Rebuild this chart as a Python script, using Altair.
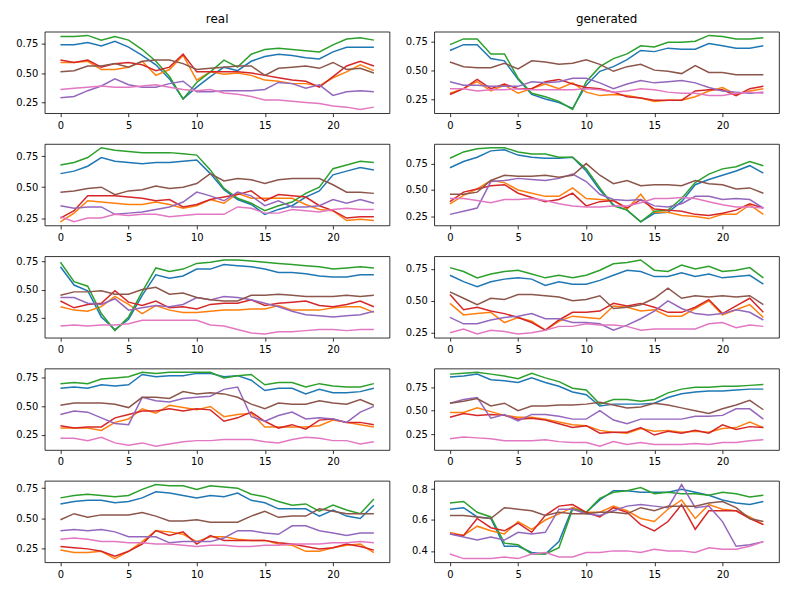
import altair as alt
import pandas as pd

SERIES = ["blue", "orange", "green", "red", "purple", "brown", "pink"]
COLORS = ["#1f77b4", "#ff7f0e", "#2ca02c", "#d62728", "#9467bd", "#8c564b", "#e377c2"]
X_TICKS = [0, 5, 10, 15, 20]

# ---- row 1, real ----
R1_BLUE = [0.74,0.74,0.76,0.73,0.77,0.72,0.65,0.57,0.45,0.28,0.38,0.47,0.55,0.52,0.60,0.64,0.66,0.65,0.63,0.62,0.68,0.72,0.72,0.72]
R1_ORANGE = [0.59,0.59,0.60,0.53,0.53,0.55,0.60,0.48,0.53,0.65,0.44,0.51,0.49,0.50,0.48,0.44,0.43,0.41,0.41,0.39,0.46,0.51,0.57,0.52]
R1_GREEN = [0.81,0.81,0.82,0.78,0.81,0.78,0.70,0.60,0.47,0.28,0.42,0.51,0.61,0.55,0.66,0.70,0.71,0.70,0.69,0.68,0.74,0.79,0.80,0.78]
R1_RED = [0.61,0.59,0.61,0.55,0.58,0.59,0.57,0.52,0.55,0.66,0.51,0.51,0.51,0.51,0.50,0.48,0.46,0.44,0.43,0.38,0.47,0.56,0.60,0.56]
R1_PURPLE = [0.29,0.30,0.35,0.39,0.45,0.40,0.38,0.38,0.41,0.43,0.34,0.34,0.35,0.35,0.35,0.36,0.42,0.41,0.37,0.40,0.31,0.34,0.35,0.34]
R1_BROWN = [0.51,0.52,0.56,0.56,0.58,0.55,0.60,0.61,0.61,0.58,0.53,0.54,0.55,0.56,0.56,0.48,0.54,0.55,0.56,0.54,0.59,0.53,0.54,0.50]
R1_PINK = [0.36,0.37,0.38,0.39,0.38,0.38,0.39,0.40,0.38,0.36,0.35,0.36,0.33,0.32,0.30,0.27,0.27,0.26,0.25,0.24,0.22,0.21,0.19,0.21]

# ---- row 1, generated ----
G1_BLUE = [0.67,0.72,0.72,0.60,0.58,0.42,0.29,0.25,0.22,0.17,0.37,0.49,0.53,0.59,0.67,0.66,0.69,0.68,0.68,0.73,0.71,0.69,0.69,0.71]
G1_ORANGE = [0.30,0.34,0.40,0.32,0.37,0.30,0.34,0.38,0.34,0.39,0.31,0.28,0.29,0.28,0.26,0.23,0.24,0.24,0.27,0.32,0.35,0.29,0.32,0.34]
G1_GREEN = [0.72,0.77,0.77,0.64,0.64,0.43,0.30,0.27,0.23,0.16,0.40,0.53,0.60,0.64,0.71,0.70,0.74,0.74,0.75,0.80,0.79,0.77,0.77,0.78]
G1_RED = [0.29,0.34,0.42,0.34,0.38,0.34,0.34,0.40,0.42,0.38,0.35,0.34,0.31,0.27,0.26,0.24,0.24,0.24,0.32,0.33,0.33,0.28,0.34,0.36]
G1_PURPLE = [0.40,0.37,0.37,0.36,0.36,0.36,0.40,0.39,0.40,0.43,0.43,0.39,0.34,0.38,0.41,0.39,0.40,0.41,0.39,0.35,0.32,0.31,0.30,0.31]
G1_BROWN = [0.57,0.53,0.52,0.52,0.56,0.51,0.58,0.57,0.55,0.56,0.59,0.55,0.49,0.53,0.55,0.50,0.49,0.47,0.54,0.48,0.48,0.46,0.46,0.46]
G1_PINK = [0.34,0.34,0.32,0.33,0.33,0.34,0.33,0.33,0.33,0.33,0.34,0.33,0.31,0.32,0.34,0.33,0.31,0.30,0.30,0.28,0.28,0.30,0.31,0.30]

# ---- row 2, real ----
R2_BLUE = [0.61,0.63,0.67,0.74,0.71,0.70,0.69,0.70,0.70,0.71,0.72,0.61,0.48,0.40,0.36,0.28,0.32,0.35,0.42,0.47,0.60,0.63,0.66,0.64]
R2_ORANGE = [0.22,0.29,0.39,0.38,0.37,0.36,0.36,0.38,0.36,0.33,0.35,0.40,0.37,0.45,0.41,0.41,0.41,0.41,0.36,0.32,0.31,0.23,0.24,0.23]
R2_GREEN = [0.68,0.70,0.74,0.82,0.80,0.79,0.78,0.78,0.78,0.77,0.76,0.64,0.49,0.41,0.37,0.31,0.35,0.38,0.45,0.50,0.65,0.68,0.71,0.70]
R2_RED = [0.25,0.31,0.43,0.43,0.43,0.42,0.41,0.39,0.40,0.34,0.36,0.40,0.42,0.44,0.47,0.39,0.44,0.43,0.42,0.35,0.31,0.25,0.26,0.26]
R2_PURPLE = [0.35,0.33,0.34,0.34,0.28,0.29,0.30,0.32,0.34,0.38,0.46,0.43,0.39,0.46,0.43,0.35,0.39,0.34,0.34,0.35,0.40,0.37,0.40,0.37]
R2_BROWN = [0.46,0.47,0.49,0.50,0.44,0.47,0.48,0.51,0.49,0.50,0.53,0.61,0.55,0.57,0.56,0.53,0.56,0.57,0.57,0.57,0.52,0.46,0.46,0.45]
R2_PINK = [0.26,0.22,0.25,0.25,0.28,0.27,0.28,0.28,0.26,0.27,0.28,0.28,0.28,0.34,0.33,0.29,0.29,0.32,0.31,0.30,0.32,0.33,0.32,0.32]

# ---- row 2, generated ----
G2_BLUE = [0.71,0.77,0.81,0.87,0.88,0.83,0.81,0.80,0.80,0.81,0.68,0.50,0.36,0.31,0.20,0.28,0.29,0.39,0.55,0.60,0.64,0.68,0.73,0.66]
G2_ORANGE = [0.37,0.45,0.51,0.59,0.57,0.50,0.47,0.44,0.44,0.52,0.42,0.41,0.40,0.32,0.46,0.29,0.29,0.26,0.25,0.23,0.27,0.27,0.36,0.27]
G2_GREEN = [0.80,0.86,0.89,0.90,0.90,0.86,0.84,0.84,0.81,0.81,0.70,0.52,0.35,0.31,0.20,0.30,0.31,0.42,0.57,0.65,0.70,0.72,0.77,0.73]
G2_RED = [0.39,0.48,0.51,0.54,0.55,0.47,0.43,0.39,0.41,0.47,0.35,0.39,0.40,0.33,0.41,0.32,0.31,0.30,0.27,0.26,0.28,0.31,0.37,0.33]
G2_PURPLE = [0.27,0.30,0.33,0.58,0.59,0.61,0.60,0.59,0.61,0.65,0.58,0.46,0.41,0.40,0.41,0.35,0.34,0.37,0.44,0.44,0.41,0.42,0.41,0.33]
G2_BROWN = [0.46,0.46,0.48,0.59,0.64,0.63,0.63,0.64,0.62,0.64,0.75,0.64,0.56,0.59,0.54,0.55,0.55,0.54,0.59,0.56,0.55,0.51,0.52,0.47]
G2_PINK = [0.42,0.42,0.40,0.38,0.41,0.41,0.42,0.40,0.37,0.35,0.34,0.34,0.35,0.35,0.38,0.42,0.42,0.43,0.42,0.39,0.36,0.34,0.34,0.33]

# ---- row 3, real ----
R3_BLUE = [0.70,0.54,0.49,0.26,0.15,0.24,0.45,0.63,0.60,0.62,0.68,0.68,0.72,0.71,0.70,0.68,0.65,0.65,0.64,0.62,0.61,0.61,0.63,0.63]
R3_ORANGE = [0.35,0.32,0.31,0.35,0.44,0.37,0.29,0.36,0.32,0.30,0.30,0.31,0.32,0.32,0.33,0.33,0.36,0.32,0.32,0.32,0.34,0.35,0.35,0.30]
R3_GREEN = [0.74,0.57,0.53,0.29,0.14,0.26,0.48,0.69,0.66,0.68,0.73,0.74,0.76,0.76,0.75,0.74,0.73,0.72,0.71,0.70,0.68,0.69,0.70,0.69]
R3_RED = [0.40,0.34,0.37,0.38,0.49,0.39,0.36,0.40,0.34,0.35,0.33,0.37,0.38,0.38,0.41,0.36,0.38,0.39,0.40,0.36,0.35,0.37,0.40,0.35]
R3_PURPLE = [0.43,0.43,0.38,0.37,0.42,0.32,0.34,0.36,0.35,0.37,0.43,0.41,0.44,0.43,0.41,0.38,0.35,0.31,0.28,0.27,0.26,0.27,0.28,0.31]
R3_BROWN = [0.45,0.48,0.48,0.49,0.46,0.46,0.50,0.52,0.46,0.47,0.43,0.41,0.40,0.40,0.45,0.45,0.46,0.45,0.44,0.44,0.44,0.45,0.44,0.45]
R3_PINK = [0.18,0.19,0.18,0.19,0.19,0.20,0.23,0.23,0.23,0.23,0.23,0.19,0.18,0.15,0.12,0.11,0.13,0.13,0.14,0.15,0.15,0.14,0.15,0.15]

# ---- row 3, generated ----
G3_BLUE = [0.70,0.65,0.61,0.65,0.67,0.68,0.67,0.62,0.65,0.63,0.63,0.66,0.70,0.74,0.73,0.69,0.69,0.72,0.69,0.71,0.68,0.69,0.70,0.63]
G3_ORANGE = [0.48,0.39,0.40,0.41,0.33,0.37,0.34,0.27,0.34,0.38,0.37,0.36,0.46,0.45,0.42,0.43,0.38,0.38,0.44,0.50,0.39,0.43,0.47,0.37]
G3_GREEN = [0.76,0.73,0.68,0.71,0.73,0.74,0.71,0.68,0.70,0.68,0.70,0.74,0.79,0.80,0.82,0.74,0.73,0.78,0.75,0.77,0.73,0.74,0.76,0.68]
G3_RED = [0.55,0.43,0.45,0.42,0.40,0.37,0.33,0.27,0.35,0.41,0.41,0.42,0.48,0.46,0.48,0.45,0.41,0.41,0.45,0.51,0.40,0.46,0.52,0.41]
G3_PURPLE = [0.37,0.32,0.32,0.35,0.37,0.38,0.40,0.36,0.36,0.33,0.33,0.32,0.27,0.31,0.36,0.42,0.50,0.44,0.40,0.39,0.40,0.43,0.41,0.35]
G3_BROWN = [0.57,0.52,0.47,0.52,0.51,0.55,0.55,0.54,0.53,0.50,0.51,0.54,0.44,0.45,0.47,0.52,0.60,0.52,0.54,0.53,0.54,0.53,0.54,0.47]
G3_PINK = [0.25,0.28,0.24,0.27,0.26,0.24,0.25,0.27,0.30,0.30,0.32,0.31,0.31,0.30,0.27,0.28,0.28,0.28,0.28,0.32,0.33,0.29,0.31,0.30]

# ---- row 4, real ----
R4_BLUE = [0.66,0.67,0.66,0.69,0.68,0.69,0.78,0.76,0.77,0.77,0.79,0.79,0.76,0.77,0.73,0.64,0.66,0.66,0.61,0.65,0.62,0.62,0.63,0.66]
R4_ORANGE = [0.31,0.31,0.31,0.29,0.36,0.39,0.48,0.44,0.51,0.49,0.47,0.50,0.41,0.43,0.44,0.32,0.32,0.32,0.32,0.33,0.38,0.36,0.34,0.32]
R4_GREEN = [0.70,0.71,0.70,0.74,0.75,0.76,0.80,0.79,0.80,0.80,0.80,0.80,0.75,0.77,0.78,0.69,0.71,0.71,0.67,0.70,0.68,0.67,0.67,0.70]
R4_RED = [0.33,0.31,0.32,0.32,0.40,0.43,0.46,0.46,0.48,0.46,0.48,0.47,0.37,0.40,0.45,0.37,0.31,0.34,0.30,0.38,0.39,0.36,0.36,0.34]
R4_PURPLE = [0.43,0.46,0.45,0.40,0.35,0.34,0.58,0.55,0.54,0.57,0.58,0.59,0.65,0.67,0.41,0.37,0.42,0.45,0.39,0.40,0.39,0.36,0.45,0.50]
R4_BROWN = [0.51,0.53,0.53,0.53,0.52,0.49,0.58,0.58,0.57,0.63,0.61,0.62,0.61,0.58,0.52,0.48,0.53,0.52,0.52,0.55,0.53,0.52,0.56,0.51]
R4_PINK = [0.22,0.22,0.20,0.23,0.18,0.16,0.18,0.15,0.17,0.19,0.20,0.20,0.21,0.21,0.21,0.19,0.18,0.21,0.23,0.22,0.20,0.20,0.17,0.19]

# ---- row 4, generated ----
G4_BLUE = [0.86,0.87,0.89,0.83,0.82,0.80,0.85,0.80,0.76,0.70,0.67,0.55,0.57,0.57,0.57,0.58,0.64,0.68,0.70,0.71,0.71,0.72,0.73,0.73]
G4_ORANGE = [0.48,0.48,0.53,0.49,0.45,0.43,0.43,0.41,0.38,0.35,0.34,0.29,0.27,0.26,0.31,0.28,0.29,0.27,0.28,0.27,0.31,0.32,0.38,0.32]
G4_GREEN = [0.89,0.90,0.91,0.89,0.87,0.84,0.90,0.85,0.81,0.74,0.72,0.57,0.62,0.62,0.60,0.62,0.69,0.73,0.75,0.75,0.76,0.76,0.77,0.78]
G4_RED = [0.43,0.47,0.45,0.46,0.45,0.41,0.42,0.40,0.36,0.32,0.34,0.26,0.27,0.27,0.32,0.24,0.28,0.26,0.29,0.26,0.35,0.30,0.33,0.32]
G4_PURPLE = [0.58,0.62,0.64,0.42,0.46,0.39,0.46,0.46,0.44,0.41,0.41,0.50,0.40,0.36,0.41,0.41,0.41,0.41,0.44,0.44,0.45,0.52,0.52,0.41]
G4_BROWN = [0.58,0.60,0.63,0.55,0.58,0.50,0.55,0.55,0.56,0.56,0.57,0.59,0.56,0.53,0.54,0.58,0.56,0.53,0.50,0.47,0.52,0.56,0.61,0.51]
G4_PINK = [0.20,0.22,0.21,0.20,0.18,0.18,0.18,0.19,0.17,0.16,0.16,0.12,0.17,0.14,0.16,0.14,0.14,0.14,0.15,0.14,0.16,0.16,0.18,0.19]

# ---- row 5, real ----
R5_BLUE = [0.62,0.64,0.65,0.65,0.63,0.64,0.67,0.72,0.71,0.69,0.67,0.69,0.68,0.71,0.65,0.63,0.58,0.58,0.58,0.52,0.57,0.52,0.50,0.61]
R5_ORANGE = [0.24,0.22,0.22,0.23,0.17,0.23,0.31,0.40,0.39,0.37,0.31,0.35,0.35,0.33,0.32,0.32,0.29,0.28,0.23,0.23,0.26,0.28,0.29,0.22]
R5_GREEN = [0.67,0.69,0.70,0.69,0.68,0.69,0.74,0.78,0.77,0.77,0.74,0.77,0.76,0.75,0.70,0.68,0.64,0.61,0.62,0.56,0.61,0.57,0.54,0.66]
R5_RED = [0.27,0.26,0.25,0.23,0.19,0.23,0.29,0.40,0.36,0.39,0.29,0.36,0.32,0.32,0.32,0.32,0.30,0.29,0.27,0.25,0.26,0.29,0.27,0.24]
R5_PURPLE = [0.40,0.41,0.40,0.41,0.39,0.35,0.35,0.35,0.30,0.31,0.31,0.31,0.34,0.40,0.40,0.38,0.37,0.44,0.44,0.40,0.38,0.36,0.38,0.38]
R5_BROWN = [0.49,0.54,0.51,0.53,0.53,0.53,0.55,0.52,0.48,0.48,0.49,0.47,0.47,0.47,0.52,0.56,0.51,0.52,0.52,0.58,0.56,0.54,0.54,0.54]
R5_PINK = [0.33,0.34,0.33,0.31,0.31,0.30,0.30,0.29,0.29,0.28,0.27,0.28,0.28,0.27,0.27,0.28,0.28,0.29,0.29,0.29,0.30,0.30,0.31,0.30]

# ---- row 5, generated ----
G5_BLUE = [0.67,0.68,0.62,0.61,0.43,0.43,0.39,0.38,0.46,0.68,0.65,0.73,0.79,0.79,0.78,0.78,0.78,0.80,0.78,0.76,0.73,0.71,0.70,0.72]
G5_ORANGE = [0.52,0.50,0.56,0.53,0.51,0.59,0.54,0.60,0.64,0.68,0.65,0.65,0.69,0.66,0.61,0.59,0.67,0.73,0.61,0.70,0.67,0.66,0.62,0.57]
G5_GREEN = [0.71,0.72,0.65,0.62,0.45,0.44,0.38,0.38,0.42,0.67,0.65,0.74,0.78,0.79,0.81,0.77,0.78,0.77,0.77,0.76,0.78,0.77,0.75,0.76]
G5_RED = [0.51,0.50,0.61,0.55,0.53,0.58,0.52,0.63,0.69,0.70,0.65,0.62,0.68,0.65,0.57,0.53,0.59,0.70,0.54,0.66,0.66,0.66,0.61,0.57]
G5_PURPLE = [0.51,0.49,0.47,0.49,0.47,0.52,0.51,0.52,0.67,0.67,0.64,0.63,0.66,0.69,0.70,0.69,0.68,0.83,0.68,0.69,0.59,0.43,0.44,0.46]
G5_BROWN = [0.63,0.63,0.62,0.61,0.68,0.67,0.66,0.63,0.65,0.64,0.64,0.65,0.65,0.64,0.68,0.66,0.69,0.69,0.69,0.71,0.72,0.68,0.61,0.59]
G5_PINK = [0.38,0.35,0.35,0.35,0.36,0.35,0.38,0.39,0.36,0.36,0.39,0.39,0.40,0.40,0.39,0.41,0.40,0.40,0.39,0.42,0.41,0.41,0.43,0.46]

REAL = [
    [R1_BLUE, R1_ORANGE, R1_GREEN, R1_RED, R1_PURPLE, R1_BROWN, R1_PINK],
    [R2_BLUE, R2_ORANGE, R2_GREEN, R2_RED, R2_PURPLE, R2_BROWN, R2_PINK],
    [R3_BLUE, R3_ORANGE, R3_GREEN, R3_RED, R3_PURPLE, R3_BROWN, R3_PINK],
    [R4_BLUE, R4_ORANGE, R4_GREEN, R4_RED, R4_PURPLE, R4_BROWN, R4_PINK],
    [R5_BLUE, R5_ORANGE, R5_GREEN, R5_RED, R5_PURPLE, R5_BROWN, R5_PINK],
]
GEN = [
    [G1_BLUE, G1_ORANGE, G1_GREEN, G1_RED, G1_PURPLE, G1_BROWN, G1_PINK],
    [G2_BLUE, G2_ORANGE, G2_GREEN, G2_RED, G2_PURPLE, G2_BROWN, G2_PINK],
    [G3_BLUE, G3_ORANGE, G3_GREEN, G3_RED, G3_PURPLE, G3_BROWN, G3_PINK],
    [G4_BLUE, G4_ORANGE, G4_GREEN, G4_RED, G4_PURPLE, G4_BROWN, G4_PINK],
    [G5_BLUE, G5_ORANGE, G5_GREEN, G5_RED, G5_PURPLE, G5_BROWN, G5_PINK],
]
Y_TICKS = [[0.25, 0.5, 0.75]] * 9 + [[0.4, 0.6, 0.8]]
Y_FMT = [".2f"] * 9 + [".1f"]

NAMES = [f"{k}_{s}" for k, s in enumerate(SERIES)]
W, H = 347, 82


def panel(series_lists, yticks, yfmt, title=None):
    rows = []
    for name, vals in zip(NAMES, series_lists):
        for i, v in enumerate(vals):
            rows.append({"t": i, "v": v, "s": name})
    df = pd.DataFrame(rows)
    lo, hi = df["v"].min(), df["v"].max()
    pad = 0.05 * (hi - lo)
    ch = alt.Chart(df).mark_line(strokeWidth=1.5, clip=True).encode(
        x=alt.X("t:Q", title=None,
                scale=alt.Scale(domain=[-1.15, 24.15], nice=False, zero=False),
                axis=alt.Axis(values=X_TICKS, format="d")),
        y=alt.Y("v:Q", title=None,
                scale=alt.Scale(domain=[lo - pad, hi + pad], nice=False, zero=False),
                axis=alt.Axis(values=yticks, format=yfmt)),
        color=alt.Color("s:N", legend=None,
                        scale=alt.Scale(domain=NAMES, range=COLORS)),
        detail="s:N",
    ).properties(width=W, height=H)
    if title:
        ch = ch.properties(title=alt.TitleParams(title))
    return ch


rows = []
for r in range(5):
    left = panel(REAL[r], Y_TICKS[2 * r], Y_FMT[2 * r], "real" if r == 0 else None)
    right = panel(GEN[r], Y_TICKS[2 * r + 1], Y_FMT[2 * r + 1], "generated" if r == 0 else None)
    rows.append(alt.hconcat(left, right, spacing=13))

chart = alt.vconcat(*rows, spacing=11).properties(
    padding={"left": 6, "top": 2, "right": 5, "bottom": 5}
).configure_view(
    stroke="#000000", strokeWidth=0.8
).configure_axis(
    domain=False, grid=False, tickColor="#000000", tickSize=3.5, tickWidth=0.8,
    labelColor="#000000", labelFont="DejaVu Sans", labelFontSize=10,
    labelPadding=3.5, labelFlush=False
).configure_axisY(
    minExtent=30, maxExtent=30
).configure_axisX(
    minExtent=18, maxExtent=18
).configure_title(
    font="DejaVu Sans", fontSize=12, fontWeight="normal", color="#000000",
    offset=6, anchor="middle"
)

chart.save("out.html", embed_options={"renderer": "svg", "actions": False})
